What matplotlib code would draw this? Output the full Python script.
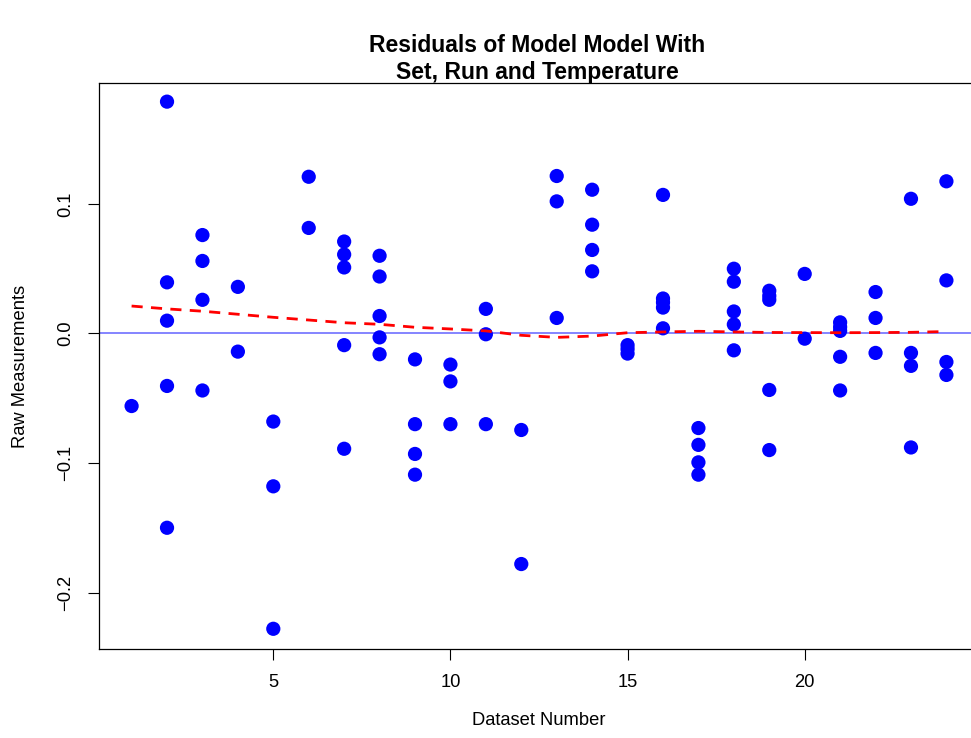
import numpy as np
import matplotlib.pyplot as plt

plt.rcParams['font.family'] = ['Liberation Sans', 'DejaVu Sans']

# residuals per dataset number
res = {
    1: [-0.056],
    2: [0.179, 0.0395, 0.0099, -0.0405, -0.150],
    3: [0.076, 0.056, 0.026, -0.044],
    4: [0.036, -0.014],
    5: [-0.068, -0.118, -0.228],
    6: [0.121, 0.0815],
    7: [0.071, 0.061, 0.051, -0.009, -0.089],
    8: [0.060, 0.044, 0.0135, -0.003, -0.016],
    9: [-0.020, -0.070, -0.093, -0.109],
    10: [-0.024, -0.037, -0.070],
    11: [0.019, -0.0006, -0.070],
    12: [-0.0745, -0.178],
    13: [0.1216, 0.102, 0.012],
    14: [0.111, 0.084, 0.0645, 0.048],
    15: [-0.009, -0.012, -0.0155],
    16: [0.107, 0.027, 0.024, 0.020, 0.004],
    17: [-0.073, -0.086, -0.0995, -0.109],
    18: [0.050, 0.040, 0.017, 0.007, -0.013],
    19: [0.033, 0.029, 0.026, -0.0436, -0.090],
    20: [0.046, -0.004],
    21: [0.0086, 0.005, 0.002, -0.018, -0.044],
    22: [0.032, 0.012, -0.015],
    23: [0.104, -0.015, -0.025, -0.088],
    24: [0.1175, 0.041, -0.022, -0.032],
}

# smooth (lowess) curve values
smooth_x = [1, 2, 3, 5, 7, 8, 9, 10, 11, 12, 13, 14, 15, 16, 17, 18, 19, 20, 21, 22, 23, 24]
smooth_y = [0.0212, 0.019, 0.0172, 0.0125, 0.0083, 0.0071, 0.0048, 0.0035, 0.002,
            -0.0014, -0.003, -0.002, 0.0006, 0.0012, 0.0017, 0.0012, 0.0008,
            0.0007, 0.0006, 0.0007, 0.0009, 0.0015]

xs = []
ys = []
for k in res:
    for v in res[k]:
        xs.append(k)
        ys.append(v)

fig = plt.figure(figsize=(9.71, 7.38), dpi=100)
ax = fig.add_axes([99/971, 89/738, 880/971, 566/738])

ax.axhline(0, color='#6f6fff', lw=1.2, zorder=1)
ax.scatter(xs, ys, s=105, color='blue', edgecolors='none', zorder=2)
ax.plot(smooth_x, smooth_y, color='red', lw=2, dashes=(4, 3), zorder=3)

ax.set_xlim(0.08, 24.92)
ax.set_ylim(-0.2436, 0.1934)
ax.set_xticks([5, 10, 15, 20])
ax.set_yticks([-0.2, -0.1, 0.0, 0.1])
ax.set_yticklabels(['\u22120.2', '\u22120.1', '0.0', '0.1'], rotation=90, va='center')
ax.tick_params(length=8, width=0.8, labelsize=13.2, pad=10)
for s in ax.spines.values():
    s.set_linewidth(0.9)

ax.set_xlabel('Dataset Number', fontsize=13.2, labelpad=15)
ax.set_ylabel('Raw Measurements', fontsize=13.2, labelpad=20)
fig.text(537/971, 1 - 59/738, 'Residuals of Model Model With\nSet, Run and Temperature',
         ha='center', va='center', fontsize=16.5, fontweight='bold', linespacing=1.2)

fig.savefig('out.png', dpi=100)
